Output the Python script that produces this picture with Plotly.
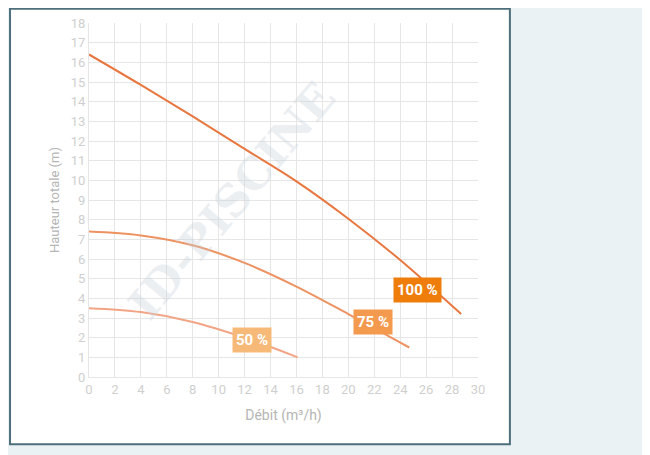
import plotly.graph_objects as go

x100 = [0, 4, 8, 12, 16, 20, 24, 28.7]
y100 = [16.4, 14.85, 13.25, 11.6, 9.95, 8.05, 5.95, 3.2]
x75 = [0, 4, 8, 12, 16, 20, 24.7]
y75 = [7.4, 7.2, 6.7, 5.8, 4.6, 3.2, 1.5]
x50 = [0, 4, 8, 12, 16.1]
y50 = [3.5, 3.3, 2.8, 2.0, 1.0]
labels = ["100 %", "75 %", "50 %"]
label_x = [25.3, 21.9, 12.6]
label_y = [4.4, 2.8, 1.9]
line_colors = ["#e8773f", "#ee9262", "#f2a585"]
box_colors = ["#ee7d0c", "#f39a4e", "#f7b978"]

fig = go.Figure()
for xs, ys, c in [(x100, y100, line_colors[0]), (x75, y75, line_colors[1]), (x50, y50, line_colors[2])]:
    fig.add_trace(go.Scatter(x=xs, y=ys, mode="lines", line=dict(color=c, width=2, shape="spline"),
                             showlegend=False, hoverinfo="skip"))
for t, lx, ly, bc in zip(labels, label_x, label_y, box_colors):
    fig.add_annotation(x=lx, y=ly, text="<b>%s</b>" % t, showarrow=False, bgcolor=bc,
                       font=dict(color="white", size=15, family="Roboto"), borderpad=3)
fig.add_annotation(x=11, y=9, text="<b>ID-PISCINE</b>", textangle=-50, showarrow=False,
                   font=dict(size=44, color="rgba(200,210,220,0.35)", family="DejaVu Serif"))

fig.add_shape(type="rect", xref="paper", yref="paper", x0=-0.203, x1=1.082, y0=-0.19, y1=1.04,
              line=dict(color="#4d6f7c", width=2), fillcolor="white", layer="below")

ax = dict(showgrid=True, gridcolor="#e6e6e6", gridwidth=1, zeroline=False, showline=True, automargin=False,
          linecolor="#e6e6e6", ticks="", tickfont=dict(color="#cfcfcf", size=13, family="Roboto"))
fig.update_xaxes(range=[0, 30], dtick=2, title=dict(text="Débit (m³/h)", font=dict(color="#b5b5b5", size=14, family="Roboto"), standoff=14), **ax)
fig.update_yaxes(range=[0, 18], dtick=1, title=dict(text="Hauteur totale (m)", font=dict(color="#b5b5b5", size=13, family="Roboto"), standoff=8), **ax)
fig.update_layout(width=650, height=455, margin=dict(l=81, r=180, t=15, b=86),
                  paper_bgcolor="#eaf2f4", plot_bgcolor="white")
fig.write_html("out.html")
